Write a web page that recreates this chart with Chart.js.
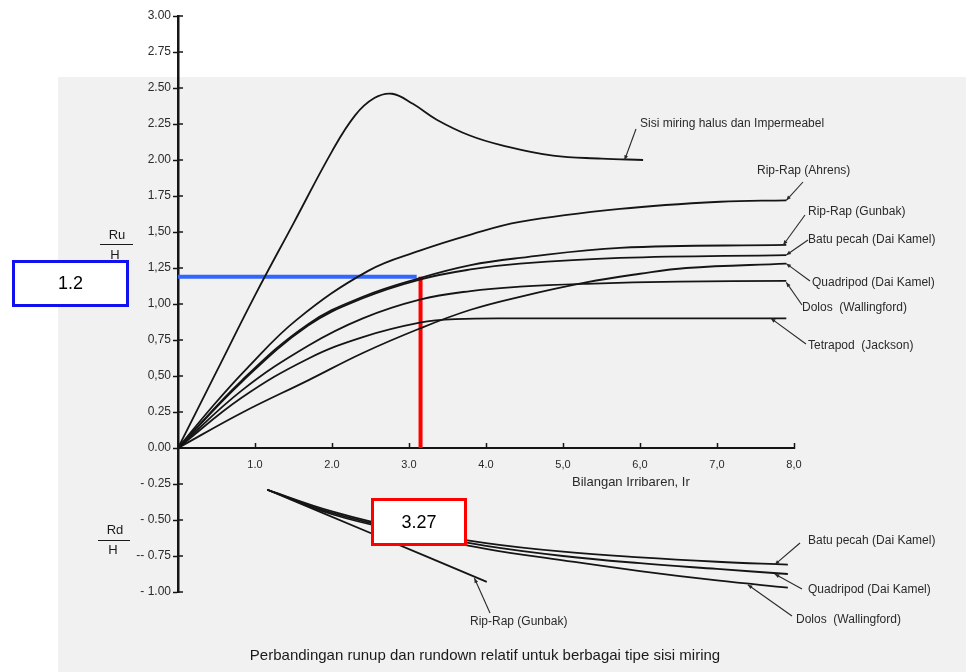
<!DOCTYPE html>
<html>
<head>
<meta charset="utf-8">
<script src="https://cdn.jsdelivr.net/npm/chart.js@4"></script>
<style>
  body { margin: 0; background: #fff; }
  #wrap { width: 966px; height: 672px; position: relative; }
</style>
</head>
<body>
<div id="wrap"><canvas id="chart"></canvas></div>
<script>
  // runup curves (Ru/H against Iribarren number Ir)
  const irSisi = [0, 0.5, 1.0, 1.5, 2.0, 2.3, 2.55, 2.78, 3.05, 3.36, 3.79, 4.22, 4.87, 5.5, 6.04];
  const ruSisi = [0, 0.53, 1.06, 1.56, 2.06, 2.31, 2.43, 2.46, 2.39, 2.28, 2.17, 2.10, 2.03, 2.01, 2.00];

  const irAhrens = [0, 0.45, 0.89, 1.54, 2.47, 3.14, 3.79, 4.44, 5.74, 7.04, 7.9];
  const ruAhrens = [0, 0.29, 0.55, 0.89, 1.23, 1.37, 1.48, 1.57, 1.66, 1.71, 1.72];

  const irMid = [0, 0.83, 1.69, 2.4, 3.14, 3.8, 4.44, 5.74, 7.9];
  const ruGunbak = [0, 0.47, 0.86, 1.05, 1.18, 1.27, 1.32, 1.39, 1.41];
  const ruBatu = [0, 0.46, 0.85, 1.04, 1.17, 1.24, 1.28, 1.32, 1.34];

  const irDolos = [0, 0.83, 1.69, 2.4, 3.14, 3.8, 4.44, 5.3, 6.5, 7.9];
  const ruDolos = [0, 0.40, 0.71, 0.90, 1.03, 1.09, 1.12, 1.14, 1.155, 1.16];

  const irTetra = [0, 0.83, 1.69, 2.4, 3.14, 3.6, 4.5, 6.0, 7.9];
  const ruTetra = [0, 0.35, 0.62, 0.77, 0.87, 0.895, 0.90, 0.90, 0.90];

  const irQuad = [0, 0.83, 1.69, 2.4, 3.14, 3.8, 4.44, 5.3, 6.0, 6.6, 7.9];
  const ruQuad = [0, 0.245, 0.47, 0.66, 0.83, 0.96, 1.05, 1.15, 1.21, 1.25, 1.28];

  // rundown curves (Rd/H)
  const irRd = [1.16, 2.0, 3.0, 4.0, 5.0, 6.0, 7.0, 7.92];
  const rdBatu = [-0.29, -0.44, -0.57, -0.66, -0.72, -0.76, -0.79, -0.81];
  const rdQuad = [-0.29, -0.45, -0.58, -0.68, -0.75, -0.80, -0.84, -0.875];
  const rdDolos = [-0.29, -0.46, -0.59, -0.70, -0.78, -0.855, -0.92, -0.97];
  const irRdGunbak = [1.16, 2.5, 4.01];
  const rdGunbak = [-0.29, -0.59, -0.93];

  // read-off guide (Ir = 3.15 -> Ru/H = 1.19)
  const guideIr = 3.15;
  const guideRu = 1.19;

  const yTickLabels = ['- 1.00', '-- 0.75', '- 0.50', '- 0.25', '0.00', '0.25', '0,50', '0,75', '1,00',
    '1,25', '1,50', '1.75', '2.00', '2.25', '2.50', '2.75', '3.00'];
  const xTickLabels = ['', '1.0', '2.0', '3.0', '4.0', '5,0', '6,0', '7,0', '8,0'];

  const curveLabels = [
    { text: 'Sisi miring halus dan Impermeabel', x: 640, y: 124, from: [636, 129], to: [5.8, 2.0] },
    { text: 'Rip-Rap (Ahrens)', x: 757, y: 171, from: [803, 182], to: [7.9, 1.72] },
    { text: 'Rip-Rap (Gunbak)', x: 808, y: 212, from: [805, 215], to: [7.86, 1.41] },
    { text: 'Batu pecah (Dai Kamel)', x: 808, y: 240, from: [808, 240], to: [7.9, 1.34] },
    { text: 'Quadripod (Dai Kamel)', x: 812, y: 283, from: [810, 281], to: [7.9, 1.28] },
    { text: 'Dolos  (Wallingford)', x: 802, y: 308, from: [802, 305], to: [7.9, 1.15] },
    { text: 'Tetrapod  (Jackson)', x: 808, y: 346, from: [806, 344], to: [7.7, 0.90] },
    { text: 'Batu pecah (Dai Kamel)', x: 808, y: 541, from: [800, 543], to: [7.75, -0.81] },
    { text: 'Quadripod (Dai Kamel)', x: 808, y: 590, from: [802, 589], to: [7.75, -0.875] },
    { text: 'Dolos  (Wallingford)', x: 796, y: 620, from: [792, 616], to: [7.4, -0.95] },
    { text: 'Rip-Rap (Gunbak)', x: 470, y: 622, from: [490, 613], to: [3.85, -0.905] }
  ];

  const pts = (xs, ys) => xs.map((x, i) => ({ x: x, y: ys[i] }));

  const curve = (data) => ({
    data: data,
    borderColor: '#151515',
    borderWidth: 1.8,
    pointRadius: 0,
    fill: false,
    tension: 0.4
  });

  const labelFont = '12px "Liberation Sans", Arial, sans-serif';

  const paper = {
    id: 'paper',
    beforeDraw(chart) {
      const ctx = chart.ctx;
      ctx.save();
      ctx.fillStyle = '#ffffff';
      ctx.fillRect(0, 0, chart.width, chart.height);
      ctx.fillStyle = '#f1f1f1';
      ctx.fillRect(58, 77, chart.width - 58, chart.height - 77);
      ctx.restore();
    }
  };

  const notes = {
    id: 'notes',
    afterDraw(chart) {
      const ctx = chart.ctx;
      const xs = chart.scales.x, ys = chart.scales.y;
      ctx.save();

      // y-axis inner tick halves
      ctx.strokeStyle = '#151515';
      ctx.lineWidth = 1.5;
      ys.ticks.forEach(t => {
        const py = ys.getPixelForValue(t.value);
        ctx.beginPath();
        ctx.moveTo(xs.left, py);
        ctx.lineTo(xs.left + 5, py);
        ctx.stroke();
      });

      // labels with leader lines and small arrowheads
      ctx.font = labelFont;
      ctx.fillStyle = '#2a2a2a';
      ctx.textBaseline = 'middle';
      curveLabels.forEach(l => {
        ctx.fillText(l.text, l.x, l.y);
        const hx = xs.getPixelForValue(l.to[0]);
        const hy = ys.getPixelForValue(l.to[1]);
        const [tx, ty] = l.from;
        ctx.strokeStyle = '#2a2a2a';
        ctx.lineWidth = 1.1;
        ctx.beginPath();
        ctx.moveTo(tx, ty);
        ctx.lineTo(hx, hy);
        ctx.stroke();
        const a = Math.atan2(hy - ty, hx - tx);
        ctx.beginPath();
        ctx.moveTo(hx, hy);
        ctx.lineTo(hx - 5 * Math.cos(a - 0.4), hy - 5 * Math.sin(a - 0.4));
        ctx.lineTo(hx - 5 * Math.cos(a + 0.4), hy - 5 * Math.sin(a + 0.4));
        ctx.closePath();
        ctx.fill();
      });

      // axis names
      ctx.fillStyle = '#2a2a2a';
      ctx.font = '13px "Liberation Sans", Arial, sans-serif';
      ctx.fillText('Bilangan Irribaren, Ir', 572, 482);

      ctx.textAlign = 'center';
      ctx.font = '13px "Liberation Sans", Arial, sans-serif';
      ctx.fillStyle = '#1a1a1a';
      ctx.fillText('Ru', 117, 235);
      ctx.fillText('H', 115, 255);
      ctx.fillText('Rd', 115, 530);
      ctx.fillText('H', 113, 550);
      ctx.lineWidth = 1.2;
      ctx.strokeStyle = '#1a1a1a';
      ctx.beginPath();
      ctx.moveTo(100, 244.5); ctx.lineTo(133, 244.5);
      ctx.moveTo(98, 540.5); ctx.lineTo(130, 540.5);
      ctx.stroke();

      ctx.font = '15px "Liberation Sans", Arial, sans-serif';
      ctx.fillText('Perbandingan runup dan rundown relatif untuk berbagai tipe sisi miring', 485, 656);

      // value boxes
      const box = (x, y, w, h, color, text) => {
        ctx.fillStyle = '#ffffff';
        ctx.fillRect(x, y, w, h);
        ctx.strokeStyle = color;
        ctx.lineWidth = 3;
        ctx.strokeRect(x, y, w, h);
        ctx.fillStyle = '#000000';
        ctx.font = '18px "Liberation Sans", Arial, sans-serif';
        ctx.fillText(text, x + w / 2, y + h / 2 + 1);
      };
      box(13.5, 261.5, 114, 44, '#1010f0', '1.2');
      box(372.5, 499.5, 93, 45, '#ff0000', '3.27');
      ctx.restore();
    }
  };

  new Chart(
    document.getElementById('chart'),
    {
      type: 'line',
      data: {
        datasets: [
          curve(pts(irSisi, ruSisi)),
          curve(pts(irAhrens, ruAhrens)),
          curve(pts(irMid, ruGunbak)),
          curve(pts(irMid, ruBatu)),
          curve(pts(irDolos, ruDolos)),
          curve(pts(irTetra, ruTetra)),
          curve(pts(irQuad, ruQuad)),
          curve(pts(irRd, rdBatu)),
          curve(pts(irRd, rdQuad)),
          curve(pts(irRd, rdDolos)),
          curve(pts(irRdGunbak, rdGunbak)),
          {
            data: [{ x: 0, y: guideRu }, { x: guideIr - 0.05, y: guideRu }],
            borderColor: '#3366ff',
            borderWidth: 4,
            pointRadius: 0
          },
          {
            data: [{ x: guideIr, y: guideRu }, { x: guideIr, y: 0 }],
            borderColor: '#ff0000',
            borderWidth: 4,
            pointRadius: 0
          }
        ]
      },
      options: {
        responsive: true,
        maintainAspectRatio: false,
        animation: false,
        layout: {
          padding: { left: 118, top: 16, right: 172, bottom: 80 }
        },
        plugins: {
          legend: { display: false },
          tooltip: { enabled: false }
        },
        scales: {
          x: {
            type: 'linear',
            min: 0,
            max: 8,
            position: { y: 0 },
            border: { color: '#151515', width: 2 },
            grid: { drawOnChartArea: false, tickLength: -6, tickColor: '#151515', tickWidth: 1.5 },
            ticks: {
              stepSize: 1,
              padding: 16,
              color: '#2a2a2a',
              font: { family: '"Liberation Sans", Arial', size: 11 },
              callback: (value) => xTickLabels[Math.round(value)] ?? ''
            }
          },
          y: {
            type: 'linear',
            min: -1,
            max: 3,
            border: { color: '#151515', width: 2.5 },
            grid: { drawOnChartArea: false, tickLength: 5, tickColor: '#151515', tickWidth: 1.5 },
            afterFit: (scale) => { scale.width = 60; },
            ticks: {
              stepSize: 0.25,
              autoSkip: false,
              padding: 2,
              color: '#2a2a2a',
              font: { family: '"Liberation Sans", Arial', size: 12 },
              callback: (value) => yTickLabels[Math.round((value + 1) * 4)]
            }
          }
        }
      },
      plugins: [paper, notes]
    }
  );
</script>
</body>
</html>
